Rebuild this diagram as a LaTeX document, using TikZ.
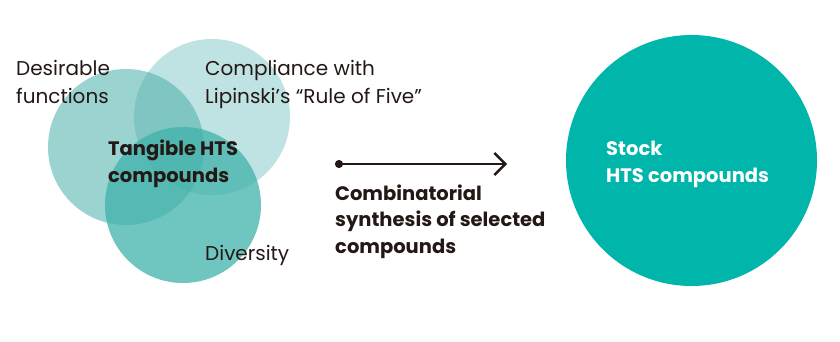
\documentclass[tikz,border=0pt]{standalone}
\usepackage{fontspec}
\setmainfont{Poppins}
\usetikzlibrary{positioning,arrows.meta}

\definecolor{ink}{HTML}{231815}
\definecolor{rulegreen}{RGB}{191,226,226}
\definecolor{funcgreen}{RGB}{81,179,174}
\definecolor{divgreen}{RGB}{63,178,170}
\definecolor{stockgreen}{HTML}{00B5A9}

\tikzset{
  venn/.style={circle, minimum size=156pt, inner sep=0pt},
  lbl/.style={anchor=base west, align=left, inner sep=0pt, text=ink,
    font=\fontsize{20}{28}\selectfont},
  boldlbl/.style={lbl, font=\fontsize{19.5}{26.5}\selectfont\bfseries},
  flow/.style={line width=2.4pt, draw=ink,
    {Circle[length=8pt]}-{Straight Barb[length=11pt, width=22pt]}},
}

\begin{document}
\begin{tikzpicture}[x=1pt, y=-1pt]
\useasboundingbox (0,0) rectangle (840,341);

% Define nodes
\node[venn, fill=rulegreen] (rule) at (212,117) {};
\node[venn, fill=funcgreen, fill opacity=0.58] (func) at (126,147) {};
\node[venn, fill=divgreen, fill opacity=0.75] (div) at (183,205) {};
\node[circle, minimum size=251pt, inner sep=0pt, fill=stockgreen] (stock) at (691.5,160.5) {};

% Labels (anchored on the last line)
\node[lbl] (funclbl) at (16,103) {Desirable\\functions};
\node[lbl] (rulelbl) at (205,103) {Compliance with\\Lipinski’s “Rule of Five”};
\node[lbl] (divlbl) at (205,260) {Diversity};
\node[boldlbl] (tangible) at (108,182) {Tangible HTS\\compounds};
\node[boldlbl, text=white] (stocklbl) at (606,182) {Stock\\HTS compounds};

% Edges
\coordinate (src) at (335,164);
\coordinate[right=172pt of src] (dst);
\draw[flow] (src) -- (dst);
\node[boldlbl] (synth) at (335,253) {Combinatorial\\synthesis of selected\\compounds};
\end{tikzpicture}
\end{document}
